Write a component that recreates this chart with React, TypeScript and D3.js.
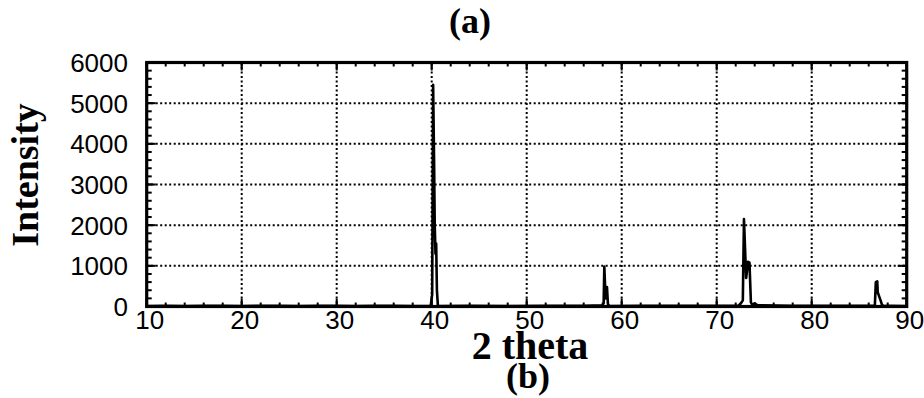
import React from "react";
import * as d3 from "d3";

const xTicks = [10, 20, 30, 40, 50, 60, 70, 80, 90];
const yTicks = [0, 1000, 2000, 3000, 4000, 5000, 6000];
const twoTheta = [
  10, 12, 14, 16, 18, 20, 22, 24, 26, 28, 30, 32, 34, 36, 38, 39.9,
  40.05, 40.15, 40.25, 40.32, 40.4, 40.47, 40.55, 40.65, 41, 44, 48, 52, 56, 57.95,
  58.1, 58.17, 58.3, 58.45, 58.55, 58.7, 62, 66, 70, 72.3, 72.55, 72.75, 72.87, 73.1,
  73.3, 73.45, 73.6, 73.75, 74.0, 74.3, 78, 82, 86.4, 86.65, 86.75, 86.9, 86.95, 87.1,
  87.25, 87.4, 87.6, 88, 90,
];
const intensity = [
  10, 15, 10, 20, 15, 10, 20, 15, 10, 20, 15, 10, 20, 15, 10, 20,
  300, 5450, 3600, 2000, 1300, 1550, 400, 20, 10, 15, 10, 20, 15, 30,
  80, 980, 200, 480, 60, 10, 15, 20, 15, 20, 80, 150, 2150, 700,
  1100, 1080, 100, 40, 80, 30, 15, 20, 20, 40, 600, 620, 350, 250,
  150, 40, 10, 15, 10,
];

const W = 924;
const H = 398;
const left = 146.7;
const right = 906.7;
const top = 62.5;
const bottom = 306.5;

export default function App() {
  const x = d3.scaleLinear().domain([10, 90]).range([left, right]);
  const y = d3.scaleLinear().domain([0, 6000]).range([bottom, top]);
  const pts = twoTheta.map((t, i) => [t, intensity[i]] as [number, number]);
  const line = d3
    .line<[number, number]>()
    .x((d) => x(d[0]))
    .y((d) => y(Math.max(0, d[1])));
  const xMinor = d3.range(10, 90.01, 2);
  const yMinor = d3.range(0, 6000.1, 200);
  const sans = "'Liberation Sans', Arial, sans-serif";
  const serif = "'Liberation Serif', 'Times New Roman', serif";
  return (
    <svg
      width={W}
      height={H}
      style={{ position: "absolute", left: 0, top: 0, background: "#fff" }}
    >
      <rect x={0} y={0} width={W} height={H} fill="#fff" />
      {xTicks.slice(1, -1).map((t) => (
        <line
          key={"gx" + t}
          x1={x(t)}
          x2={x(t)}
          y1={top}
          y2={bottom}
          stroke="#000"
          strokeWidth={2}
          strokeDasharray="2,2.5"
        />
      ))}
      {yTicks.slice(1, -1).map((t) => (
        <line
          key={"gy" + t}
          x1={left}
          x2={right}
          y1={y(t)}
          y2={y(t)}
          stroke="#000"
          strokeWidth={2}
          strokeDasharray="2,2.5"
        />
      ))}
      {xMinor.map((t) => (
        <g key={"xm" + t}>
          <line x1={x(t)} x2={x(t)} y1={bottom} y2={bottom - 4} stroke="#000" strokeWidth={2} />
          <line x1={x(t)} x2={x(t)} y1={top} y2={top + 4} stroke="#000" strokeWidth={2} />
        </g>
      ))}
      {yMinor.map((t) => (
        <g key={"ym" + t}>
          <line x1={left} x2={left + 5} y1={y(t)} y2={y(t)} stroke="#000" strokeWidth={2} />
          <line x1={right} x2={right - 5} y1={y(t)} y2={y(t)} stroke="#000" strokeWidth={2} />
        </g>
      ))}
      {xTicks.map((t) => (
        <g key={"xM" + t}>
          <line x1={x(t)} x2={x(t)} y1={bottom} y2={bottom - 8} stroke="#000" strokeWidth={2} />
          <line x1={x(t)} x2={x(t)} y1={top} y2={top + 8} stroke="#000" strokeWidth={2} />
        </g>
      ))}
      {yTicks.map((t) => (
        <g key={"yM" + t}>
          <line x1={left} x2={left + 9} y1={y(t)} y2={y(t)} stroke="#000" strokeWidth={2} />
          <line x1={right} x2={right - 9} y1={y(t)} y2={y(t)} stroke="#000" strokeWidth={2} />
        </g>
      ))}
      <path d={line(pts) || ""} fill="none" stroke="#000" strokeWidth={2.6} strokeLinejoin="round" />
      <rect
        x={left}
        y={top}
        width={right - left}
        height={bottom - top}
        fill="none"
        stroke="#000"
        strokeWidth={3.2}
      />
      {yTicks.map((t) => (
        <text
          key={"yl" + t}
          x={128}
          y={y(t)}
          dy="0.36em"
          textAnchor="end"
          fontFamily={sans}
          fontSize={26}
          fill="#000"
        >
          {t}
        </text>
      ))}
      {xTicks.map((t) => (
        <text
          key={"xl" + t}
          x={x(t) + 3}
          y={329}
          textAnchor="middle"
          fontFamily={sans}
          fontSize={26}
          fill="#000"
        >
          {t}
        </text>
      ))}
      <text
        x={470}
        y={33}
        textAnchor="middle"
        fontFamily={serif}
        fontWeight="bold"
        fontSize={36}
        fill="#000"
      >
        (a)
      </text>
      <text
        transform="translate(38,175) rotate(-90)"
        textAnchor="middle"
        fontFamily={serif}
        fontWeight="bold"
        fontSize={38}
        fill="#000"
      >
        Intensity
      </text>
      <text
        x={530}
        y={359}
        textAnchor="middle"
        fontFamily={serif}
        fontWeight="bold"
        fontSize={40}
        fill="#000"
      >
        2 theta
      </text>
      <text
        x={528}
        y={388}
        textAnchor="middle"
        fontFamily={serif}
        fontWeight="bold"
        fontSize={36}
        fill="#000"
      >
        (b)
      </text>
    </svg>
  );
}
